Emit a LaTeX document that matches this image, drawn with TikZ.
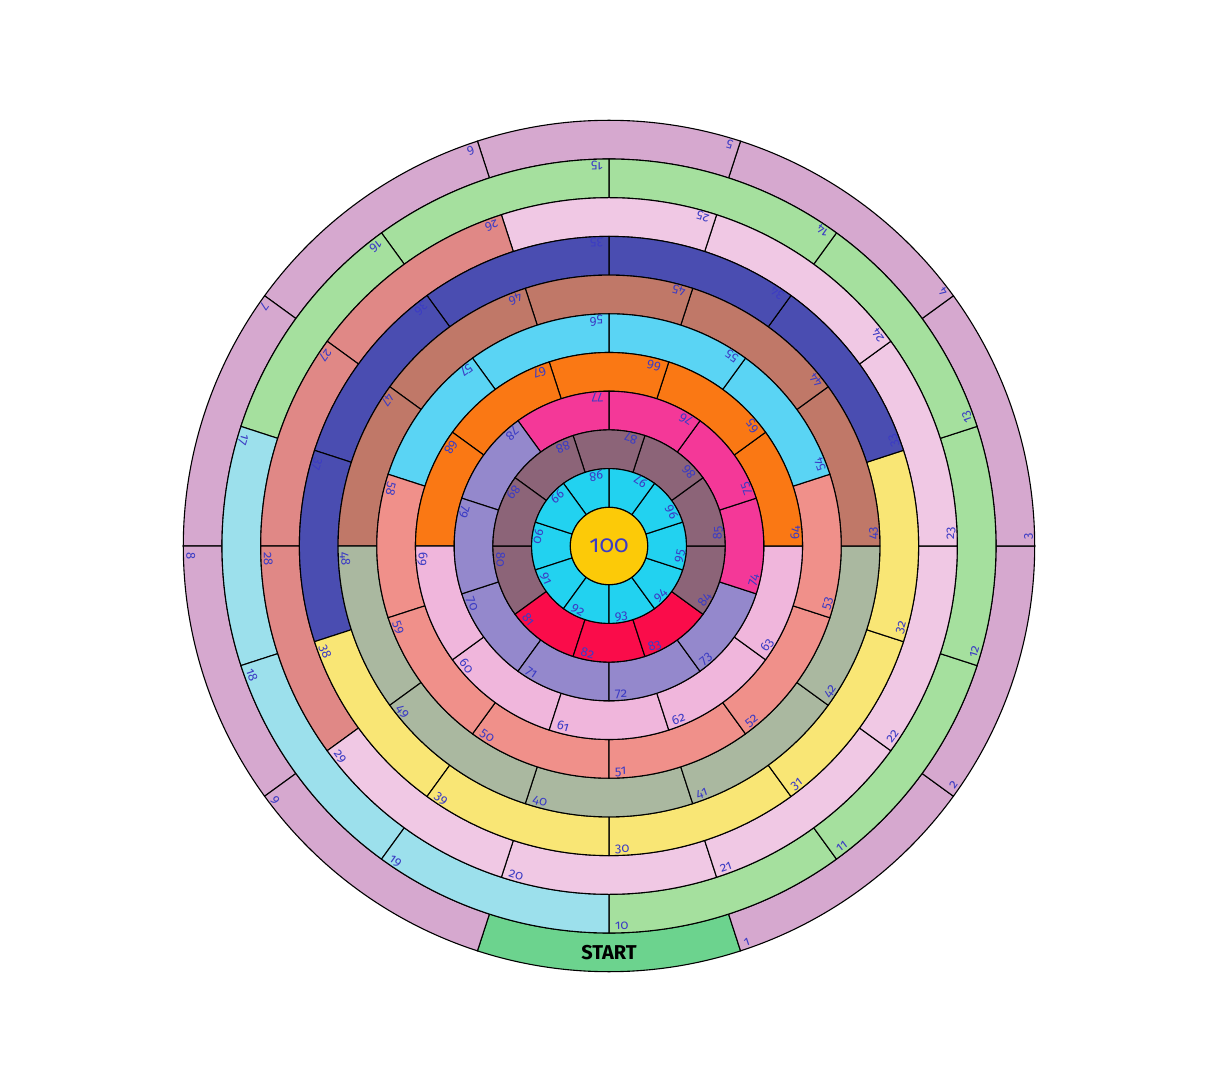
\documentclass[tikz,border=0pt]{standalone}
\usepackage{fontspec}
\setmainfont{Fira Sans}
\newfontfamily\numfont[Numbers=OldStyle]{Fira Sans}
\definecolor{lblblue}{HTML}{3C3CC4}
\definecolor{mv}{HTML}{D6A8CF}
\definecolor{stg}{HTML}{6CD38E}
\definecolor{gr}{HTML}{A5E09E}
\definecolor{lb}{HTML}{9CE0EC}
\definecolor{pk}{HTML}{F0C8E4}
\definecolor{sa}{HTML}{E08886}
\definecolor{ye}{HTML}{F9E675}
\definecolor{db}{HTML}{4A4DB1}
\definecolor{sg}{HTML}{AAB8A0}
\definecolor{br}{HTML}{C07868}
\definecolor{sl}{HTML}{F0908A}
\definecolor{cb}{HTML}{5AD4F4}
\definecolor{pi}{HTML}{F0B6DC}
\definecolor{orn}{HTML}{FA7814}
\definecolor{lv}{HTML}{9488CC}
\definecolor{hp}{HTML}{F43898}
\definecolor{mu}{HTML}{8C6478}
\definecolor{rd}{HTML}{FA0C4A}
\definecolor{cy}{HTML}{22D2F0}
\definecolor{yc}{HTML}{FCCA08}
\newcommand\bcell[5]{%
  \pgfmathsetmacro\bcE{#3+36}%
  \draw[cellline, fill=#4] (#3:#1pt) -- (#3:#2pt) arc[start angle=#3, end angle=\bcE, radius=#2pt] -- (\bcE:#1pt) arc[start angle=\bcE, end angle=#3, radius=#1pt] -- cycle;
  \pgfmathsetmacro\bcR{#2-3}%
  \pgfmathsetmacro\bcA{#3+6/\bcR*57.2958}%
  \pgfmathsetmacro\bcT{\bcA+90}%
  \node[numlbl, rotate=\bcT] (L#5) at (\bcA:\bcR pt) {#5};
}
\begin{document}
\begin{tikzpicture}[x=1pt,y=1pt,
  cellline/.style={draw=black, line width=1.1pt},
  numlbl/.style={font=\numfont\fontsize{13}{13}\selectfont, text=lblblue, inner sep=0pt, anchor=base west}]
\useasboundingbox[fill=white] (-609,-546) rectangle (609,546);
% ring 1
\draw[cellline, fill=stg] (-108:387pt) -- (-108:425.7pt) arc[start angle=-108, end angle=-72, radius=425.7pt] -- (-72:387pt) arc[start angle=-72, end angle=-108, radius=387pt] -- cycle;
\node[font=\bfseries\fontsize{20}{20}\selectfont, text=black, inner sep=0pt] (start) at (-90:406.35pt) {START};
\foreach \i in {1,...,9} {
  \pgfmathsetmacro\a{-72+36*(\i-1)}
  \bcell{387.0}{425.7}{\a}{mv}{\i}
}
% ring 2
\foreach \i/\col in {10/gr,11/gr,12/gr,13/gr,14/gr,15/gr,16/gr,17/lb,18/lb,19/lb} {
  \pgfmathsetmacro\a{-90+36*(\i-10)}
  \bcell{348.3}{387.0}{\a}{\col}{\i}
}
% ring 3
\foreach \i/\col in {20/pk,21/pk,22/pk,23/pk,24/pk,25/pk,26/sa,27/sa,28/sa,29/pk} {
  \pgfmathsetmacro\a{-108+36*(\i-20)}
  \bcell{309.6}{348.3}{\a}{\col}{\i}
}
% ring 4
\foreach \i/\col in {30/ye,31/ye,32/ye,33/db,34/db,35/db,36/db,37/db,38/ye,39/ye} {
  \pgfmathsetmacro\a{-90+36*(\i-30)}
  \bcell{270.9}{309.6}{\a}{\col}{\i}
}
% ring 5
\foreach \i/\col in {40/sg,41/sg,42/sg,43/br,44/br,45/br,46/br,47/br,48/sg,49/sg} {
  \pgfmathsetmacro\a{-108+36*(\i-40)}
  \bcell{232.2}{270.9}{\a}{\col}{\i}
}
% ring 6
\foreach \i/\col in {50/sl,51/sl,52/sl,53/sl,54/cb,55/cb,56/cb,57/cb,58/sl,59/sl} {
  \pgfmathsetmacro\a{-126+36*(\i-50)}
  \bcell{193.5}{232.2}{\a}{\col}{\i}
}
% ring 7
\foreach \i/\col in {60/pi,61/pi,62/pi,63/pi,64/orn,65/orn,66/orn,67/orn,68/orn,69/pi} {
  \pgfmathsetmacro\a{-144+36*(\i-60)}
  \bcell{154.8}{193.5}{\a}{\col}{\i}
}
% ring 8
\foreach \i/\col in {70/lv,71/lv,72/lv,73/lv,74/hp,75/hp,76/hp,77/hp,78/lv,79/lv} {
  \pgfmathsetmacro\a{-162+36*(\i-70)}
  \bcell{116.1}{154.8}{\a}{\col}{\i}
}
% ring 9
\foreach \i/\col in {80/mu,81/rd,82/rd,83/rd,84/mu,85/mu,86/mu,87/mu,88/mu,89/mu} {
  \pgfmathsetmacro\a{180+36*(\i-80)}
  \bcell{77.4}{116.1}{\a}{\col}{\i}
}
% ring 10
\foreach \i in {90,...,99} {
  \pgfmathsetmacro\a{162+36*(\i-90)}
  \bcell{38.7}{77.4}{\a}{cy}{\i}
}
% centre
\node[circle, draw=black, line width=1.1pt, fill=yc, minimum size=77.4pt, inner sep=0pt,
  font=\numfont\fontsize{24}{24}\selectfont, text=lblblue] (c100) at (0,0) {100};
\end{tikzpicture}
\end{document}
